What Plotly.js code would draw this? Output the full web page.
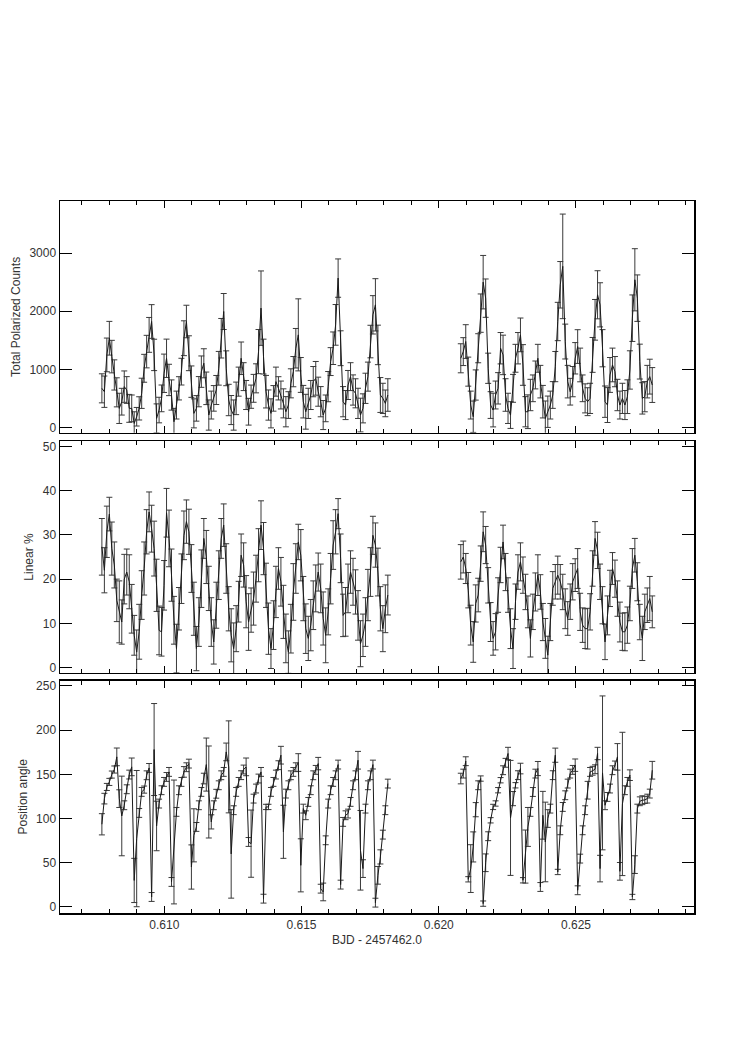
<!DOCTYPE html>
<html>
<head>
<meta charset="utf-8">
<script src="https://cdn.plot.ly/plotly-3.0.1.min.js"></script>
<style>html,body{margin:0;padding:0;background:#fff;}</style>
</head>
<body>
<div id="chart" style="width:741px;height:1049px;"></div>
<script>
// Time stamps (BJD - 2457462.0)
var tLeft = [0.607726,0.607817,0.607907,0.607998,0.608088,0.608179,0.608270,0.608360,0.608451,0.608541,
0.608632,0.608723,0.608813,0.608904,0.608994,0.609085,0.609176,0.609266,0.609357,0.609447,
0.609538,0.609629,0.609719,0.609810,0.609900,0.609991,0.610082,0.610172,0.610263,0.610353,
0.610444,0.610535,0.610625,0.610716,0.610806,0.610897,0.610988,0.611078,0.611169,0.611259,
0.611350,0.611441,0.611531,0.611622,0.611712,0.611803,0.611894,0.611984,0.612075,0.612165,
0.612256,0.612347,0.612437,0.612528,0.612618,0.612709,0.612800,0.612890,0.612981,0.613071,
0.613162,0.613253,0.613343,0.613434,0.613524,0.613615,0.613706,0.613796,0.613887,0.613977,
0.614068,0.614159,0.614249,0.614340,0.614430,0.614521,0.614612,0.614702,0.614793,0.614883,
0.614974,0.615065,0.615155,0.615246,0.615336,0.615427,0.615518,0.615608,0.615699,0.615789,
0.615880,0.615971,0.616061,0.616152,0.616242,0.616333,0.616424,0.616514,0.616605,0.616695,
0.616786,0.616877,0.616967,0.617058,0.617148,0.617239,0.617330,0.617420,0.617511,0.617601,
0.617692,0.617783,0.617873,0.617964,0.618054,0.618145];
var tRight = [0.620803,0.620894,0.620984,0.621075,0.621165,0.621256,0.621347,0.621437,0.621528,0.621618,
0.621709,0.621800,0.621890,0.621981,0.622071,0.622162,0.622253,0.622343,0.622434,0.622524,
0.622615,0.622706,0.622796,0.622887,0.622977,0.623068,0.623159,0.623249,0.623340,0.623430,
0.623521,0.623612,0.623702,0.623793,0.623883,0.623974,0.624065,0.624155,0.624246,0.624336,
0.624427,0.624518,0.624608,0.624699,0.624789,0.624880,0.624971,0.625061,0.625152,0.625242,
0.625333,0.625424,0.625514,0.625605,0.625695,0.625786,0.625877,0.625967,0.626058,0.626148,
0.626239,0.626330,0.626420,0.626511,0.626601,0.626692,0.626783,0.626873,0.626964,0.627054,
0.627145,0.627236,0.627326,0.627417,0.627507,0.627598,0.627689,0.627779];

// Total polarized counts
var countsLeft = [673,615,1248,1535,1219,903,604,328,443,702,
644,328,328,69,184,328,587,1018,1305,1593,
1823,1248,155,299,500,932,1190,817,558,98,
385,673,960,1535,1823,1277,788,242,328,615,
960,1104,673,213,385,500,644,1018,1535,1995,
1018,472,299,213,500,788,1190,874,558,270,
529,673,845,1305,2053,1219,615,385,242,500,
788,673,558,414,270,385,759,960,1363,1593,
903,443,270,414,558,788,845,615,443,213,
328,702,1133,1363,1765,2570,1363,443,385,730,
874,644,587,414,213,328,673,874,1478,1938,
2110,1420,558,500,414,558];
var countsLeftErr = [250,270,290,290,280,260,250,260,230,270,
230,240,230,200,160,200,260,240,280,300,
290,270,250,220,230,330,330,270,260,230,
240,200,230,300,280,300,270,250,220,260,
270,250,280,260,240,220,250,290,340,310,
300,270,250,260,280,250,280,240,250,230,
200,240,250,380,640,300,280,260,250,220,
250,200,240,250,260,230,250,260,340,620,
300,280,300,260,250,260,290,250,260,250,
230,260,240,280,350,330,300,260,250,250,
240,260,250,260,290,250,260,250,280,330,
450,340,300,260,230,280];
var countsRight = [1190,1305,1478,960,385,184,730,1363,1967,2500,
2225,1018,385,299,558,673,1363,1248,558,328,
213,673,1190,1363,1593,1075,270,270,558,673,
903,1190,788,443,155,270,385,558,1047,1823,
2455,2772,1478,788,615,788,1190,1392,1075,673,
500,443,500,1248,1852,2283,2110,1363,443,385,
903,1075,960,558,385,500,385,529,989,1880,
2541,2225,1133,500,529,788,874,730];
var countsRightErr = [250,240,290,250,240,270,260,250,330,460,
330,260,230,290,240,270,270,340,280,260,
230,240,240,270,290,350,260,290,270,230,
240,240,280,280,300,270,240,230,260,330,
400,900,300,280,230,260,270,290,290,230,
250,240,260,300,350,414,380,320,270,300,
300,290,260,270,240,260,250,290,330,400,
535,400,300,270,260,280,300,300];

// Linear polarization (%)
var linLeft = [27.3,22.0,30.7,34.7,26.9,23.2,15.2,12.6,10.3,20.0,
21.6,19.4,13.3,7.3,3.5,8.1,16.4,22.4,30.7,35.2,
31.4,26.9,18.6,8.4,8.1,18.6,35.0,29.2,20.9,10.7,
4.3,13.3,20.1,29.9,33.0,30.7,22.4,13.3,4.3,10.3,
20.1,29.2,25.0,17.9,10.3,5.8,14.1,20.9,29.2,32.2,
22.4,13.3,7.3,4.3,8.8,14.9,25.4,23.2,14.9,10.3,
13.0,15.6,20.1,25.4,32.2,26.9,18.6,8.8,4.3,9.6,
17.1,22.4,19.4,12.6,6.6,3.5,8.8,17.1,22.4,28.4,
25.4,15.6,8.8,6.6,9.6,14.1,17.9,21.6,17.9,11.1,
7.3,12.6,20.1,27.7,30.7,34.8,24.7,11.8,12.6,17.9,
21.6,19.4,17.1,11.8,5.4,7.3,10.3,16.4,21.6,29.9,
27.7,21.6,13.3,8.8,13.3,16.4];
var linLeftErr = [6.4,5.1,5.8,3.8,6.0,5.2,4.8,7.0,5.0,5.6,
5.2,6.1,5.5,4.5,5.0,6.2,5.5,6.0,5.0,4.5,
5.3,6.2,5.9,5.5,5.5,5.6,5.5,6.4,5.9,5.4,
5.5,4.8,5.6,5.5,4.9,5.1,5.4,6.0,5.0,5.5,
6.5,4.5,6.0,5.0,5.5,5.0,5.2,5.5,4.5,4.8,
5.6,5.0,6.0,5.8,5.2,4.6,4.8,5.0,5.9,6.4,
5.0,6.0,5.3,6.0,5.5,5.9,5.0,5.8,4.5,5.5,
5.8,4.7,5.5,6.0,5.5,4.8,5.5,6.4,5.6,4.0,
5.8,5.0,5.6,5.0,5.8,5.5,5.3,4.3,5.5,6.0,
6.2,5.2,5.7,5.5,5.0,3.4,5.5,4.8,5.5,5.5,
4.8,5.3,5.0,5.6,5.2,4.8,5.5,5.8,5.5,4.3,
5.0,5.4,5.0,5.2,5.4,4.5];
var linRight = [23.9,25.0,22.4,17.5,9.6,5.8,14.5,16.4,23.5,30.7,
27.7,18.6,10.3,6.6,8.1,16.4,23.2,28.4,21.6,16.4,
8.8,4.3,14.9,21.6,23.9,20.9,17.1,12.6,6.6,12.6,
17.1,20.9,17.1,10.3,6.6,2.8,10.3,17.9,19.4,20.9,
19.4,17.1,13.3,11.1,14.9,19.4,20.9,22.4,12.6,9.6,
8.8,8.8,12.6,22.4,29.2,26.5,19.4,14.1,5.8,11.8,
17.9,22.4,20.1,15.6,10.3,8.1,8.1,9.6,14.5,22.4,
25.4,19.4,10.3,6.6,12.6,14.1,15.6,12.6];
var linRightErr = [3.9,3.6,3.4,4.0,4.5,4.6,4.2,3.8,4.0,4.5,
4.2,4.0,4.4,3.8,4.1,3.9,4.0,3.8,4.2,3.9,
4.5,4.5,4.0,3.9,4.3,4.1,4.0,3.6,4.2,4.0,
4.3,4.6,3.9,4.2,4.5,4.3,4.2,3.8,3.9,4.3,
3.9,4.0,4.5,3.8,4.0,4.1,3.7,4.5,4.2,3.9,
4.5,4.6,4.1,4.0,3.8,4.1,4.0,4.2,4.0,4.4,
4.1,3.6,4.2,4.0,4.5,4.2,4.3,4.1,3.9,4.5,
3.8,4.3,4.0,5.0,4.0,3.9,5.0,3.6];

// Position angle (deg)
var paLeft = [93.5,122.5,135.7,141.4,149.7,155.4,169.7,122.5,102.9,115,
133.1,149.7,158.4,30,77.3,106.3,130.1,132.7,148.9,157.2,
11.3,178,91.6,116.9,132,141.4,147,152.7,28.3,73.5,
107.5,132,141.4,152.7,158,162.1,45.2,81,90.5,115,
130.1,145.2,161,130,96.2,115,128,137.6,148.9,152.7,
175.3,158.4,60,109.4,130.1,141.4,149,155.4,158.4,73.5,
71.6,122.5,133.9,145.2,152.7,9.4,113.1,113.1,130.1,141.4,
149.7,160.3,171.6,85,128.2,137.6,148.9,152.7,158,163.3,
47.1,111.2,103.7,118.8,132,148.9,155,162.1,20.7,17,
75.4,116.9,132,141.4,148.9,161,25.3,96.2,103.7,105.6,
118.8,137.6,148.9,165.9,64.1,43.4,111.2,137.6,148.9,161,
4.9,35.8,56.6,81.8,109.4,139.5];
var paLeftErr = [12,6,4,4,4,4,10,10,45,5,
5,5,10,25,77,5,5,4,5,5,
5,52,28,5,5,5,5,5,5,70,
5,5,5,6,5,5,25,30,5,5,
5,6,30,52,8,5,5,5,5,5,
10,52,50,5,5,5,5,5,10,5,
38,5,5,5,5,5,3,3,5,5,
5,5,10,30,5,5,5,5,5,10,
30,5,5,5,5,5,5,7,5,10,
5,5,5,5,5,5,5,5,5,5,
5,5,5,10,45,10,5,5,5,5,
5,10,8,5,5,5];
var paRight = [145.2,150.8,164.8,31.3,43.4,67.9,110,137.6,145.2,3.8,
50,80,98,113.1,117,132,143.3,154.6,163,173.5,
100.7,122.5,137.6,149,156.5,30.2,57,90.5,107.5,130,
150.8,156.5,22.6,103.7,73.5,100,111.2,149,171.6,39.6,
86.7,113.1,126.3,139.5,150.8,155,160.3,18.9,54.7,86.7,
109.4,132,152.7,154,155.7,173.5,43.4,151.6,115,124.4,
133.9,154.6,160,169.7,40.3,116.5,132,141.4,149,11.3,
47.9,111.2,119.5,120.7,121,122.5,128.2,154.6];
var paRightErr = [6,5,5,3,27,17,8,5,3,3,
10,5,3,3,3,3,3,5,5,7,
65,8,3,5,6,3,30,22,5,5,
5,8,5,27,45,10,5,5,8,3,
5,5,5,5,5,5,7,5,5,5,
5,10,5,5,5,7,15,87,5,5,
5,5,5,15,10,81,5,5,6,3,
10,5,5,5,4,5,5,10];

// Axis labels and ticks
var xTitle = 'BJD - 2457462.0';
var yTitles = ['Total Polarized Counts', 'Linear %', 'Position angle'];
var xTicks = [0.610, 0.615, 0.620, 0.625];

var LINE = '#1a1a1a', ERR = '#3a3a3a';
function seg(x, y, e, xa, ya) {
  return {
    x: x, y: y, type: 'scatter', mode: 'lines', xaxis: xa, yaxis: ya,
    line: {color: LINE, width: 1},
    error_y: {type: 'data', array: e, visible: true, color: ERR, thickness: 1, width: 3},
    hoverinfo: 'skip', showlegend: false
  };
}
var data = [
  seg(tLeft, countsLeft, countsLeftErr, 'x3', 'y3'),
  seg(tRight, countsRight, countsRightErr, 'x3', 'y3'),
  seg(tLeft, linLeft, linLeftErr, 'x2', 'y2'),
  seg(tRight, linRight, linRightErr, 'x2', 'y2'),
  seg(tLeft, paLeft, paLeftErr, 'x', 'y'),
  seg(tRight, paRight, paRightErr, 'x', 'y')
];

var FONT = {family: 'Liberation Sans, DejaVu Sans, sans-serif', size: 12, color: '#333'};
function xax(anchor, labels) {
  return {
    anchor: anchor, range: [0.6062, 0.6293], showline: true, linecolor: '#000', linewidth: 1.5,
    mirror: 'allticks', ticks: 'inside', ticklen: 7, tickcolor: '#000', tickwidth: 1,
    tickmode: 'array', tickvals: xTicks, ticktext: xTicks.map(function (v) { return v.toFixed(3); }),
    showticklabels: labels, showgrid: false, zeroline: false, tickfont: FONT,
    minor: {dtick: 0.001, ticks: 'inside', ticklen: 4, tickcolor: '#000', tickwidth: 1, showgrid: false}
  };
}
function yax(domain, range, dtick, title) {
  return {
    domain: domain, range: range, tick0: 0, dtick: dtick, tickmode: 'linear',
    showline: true, linecolor: '#000', linewidth: 1.5, mirror: 'allticks',
    ticks: 'inside', ticklen: 12, tickcolor: '#000', tickwidth: 1,
    showgrid: false, zeroline: false, tickfont: FONT,
    title: {text: title, font: FONT, standoff: 6}
  };
}
var xa1 = xax('y', true);
xa1.title = {text: xTitle, font: FONT, standoff: 4};
var xa2 = xax('y2', false); xa2.matches = 'x';
var xa3 = xax('y3', false); xa3.matches = 'x';

var layout = {
  width: 741, height: 1049,
  margin: {l: 60, r: 47, t: 201, b: 136},
  paper_bgcolor: '#fff', plot_bgcolor: '#fff',
  font: FONT, showlegend: false,
  xaxis: xa1, xaxis2: xa2, xaxis3: xa3,
  yaxis: yax([0, 0.3265], [-6.8, 256], 50, yTitles[2]),
  yaxis2: yax([0.3372, 0.6628], [-1.2, 51.2], 10, yTitles[1]),
  yaxis3: yax([0.6744, 1], [-93, 3897], 1000, yTitles[0])
};
Plotly.newPlot('chart', data, layout, {staticPlot: true, displayModeBar: false});
</script>
</body>
</html>
